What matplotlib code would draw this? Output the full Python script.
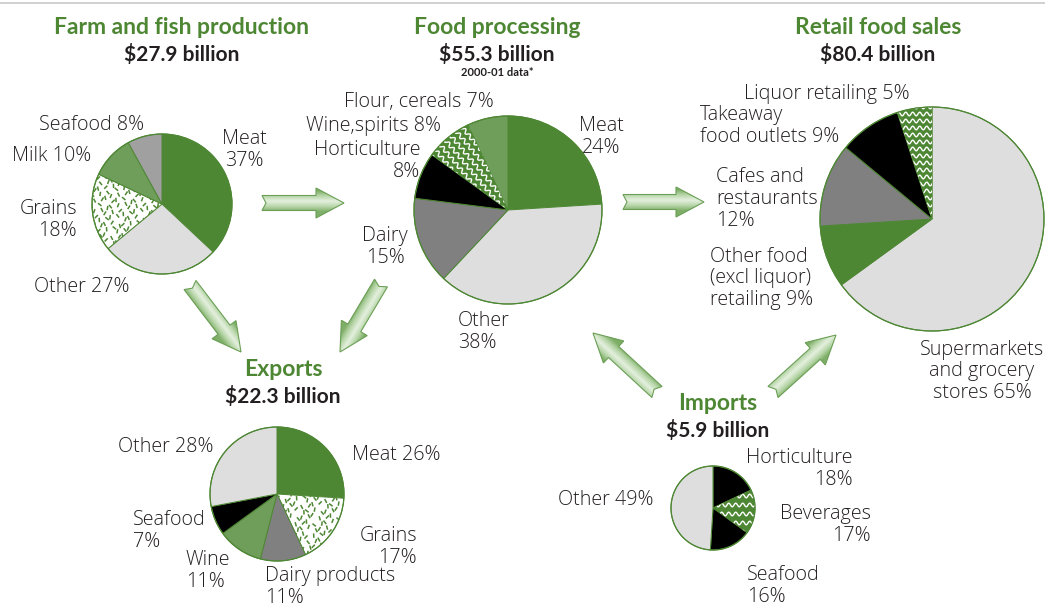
import numpy as np
import matplotlib
matplotlib.use("Agg")
import matplotlib.pyplot as plt
from matplotlib.patches import Polygon
from matplotlib.collections import LineCollection
from matplotlib.colors import LinearSegmentedColormap

# ---------------- data ----------------
farm_labels = ['Meat', 'Other', 'Grains', 'Milk', 'Seafood']
farm_values = [37, 27, 18, 10, 8]
farm_title, farm_total = 'Farm and fish production', '$27.9 billion'

proc_labels = ['Meat', 'Other', 'Dairy', 'Horticulture', 'Wine,spirits', 'Flour, cereals']
proc_values = [24, 38, 15, 8, 8, 7]
proc_title, proc_total, proc_note = 'Food processing', '$55.3 billion', '2000-01 data*'

retail_labels = ['Supermarkets\nand grocery\nstores', 'Other food\n(excl liquor)\nretailing',
                 'Cafes and\nrestaurants', 'Takeaway\nfood outlets', 'Liquor retailing']
retail_values = [65, 9, 12, 9, 5]
retail_title, retail_total = 'Retail food sales', '$80.4 billion'

export_labels = ['Meat', 'Grains', 'Dairy products', 'Wine', 'Seafood', 'Other']
export_values = [26, 17, 11, 11, 7, 28]
export_title, export_total = 'Exports', '$22.3 billion'

import_labels = ['Horticulture', 'Beverages', 'Seafood', 'Other']
import_values = [18, 17, 16, 49]
import_title, import_total = 'Imports', '$5.9 billion'

# ---------------- styles ----------------
W, H = 1045, 607
DKG = '#4e8734'
MDG = '#6f9d5a'
LGR = '#dedede'
GRY = '#808080'
LGY = '#a0a0a0'
BLK = '#000000'
DASH = 'dash'
WAVE = 'wave'
TXT = '#231f20'
LABEL_FONT = ['Open Sans', 'DejaVu Sans']
TITLE_FONT = ['Lato', 'DejaVu Sans']
plt.rcParams['font.family'] = ['Lato', 'DejaVu Sans']

fig = plt.figure(figsize=(W / 100, H / 100), dpi=100)
ax = fig.add_axes([0, 0, 1, 1])


def Y(y):
    return H - y


def texture_dash(wedge, cx, cy, r):
    s = 6.0
    segs = []
    n = int(2 * r / s) + 2
    for i in range(n):
        for j in range(n):
            ox = ((i * 37 + j * 17) % 11) / 11.0 * s * 0.8
            oy = ((i * 23 + j * 41) % 7) / 7.0 * s * 0.8
            px = cx - r + i * s + ox
            py = cy - r + j * s + oy
            ang = np.radians(45 + ((i * 13 + j * 29) % 9) * 12)
            L = 2.2
            segs.append([(px - L * np.cos(ang), py - L * np.sin(ang)),
                         (px + L * np.cos(ang), py + L * np.sin(ang))])
    lc = LineCollection(segs, colors=DKG, linewidths=1.1, zorder=wedge.get_zorder() + 0.1,
                        capstyle='butt')
    ax.add_collection(lc)
    lc.set_clip_path(wedge)


def texture_wave(wedge, cx, cy, r, angle=0.0, spacing=7.0, wl=7.0, amp=1.8):
    th = np.radians(angle)
    d = np.array([np.cos(th), np.sin(th)])
    nv = np.array([-np.sin(th), np.cos(th)])
    u = np.linspace(-r, r, int(2 * r * 3))
    segs = []
    k = -r
    while k <= r:
        v = k + amp * np.sin(2 * np.pi * u / wl)
        pts = np.c_[cx + u * d[0] + v * nv[0], cy + u * d[1] + v * nv[1]]
        segs.append(pts)
        k += spacing
    lc = LineCollection(segs, colors='white', linewidths=1.0, zorder=wedge.get_zorder() + 0.1)
    ax.add_collection(lc)
    lc.set_clip_path(wedge)


def draw_pie(values, fills, cx, cy, r, wave_angle=0.0, wave_sp=7.0):
    cols = ['white' if f == DASH else (DKG if f == WAVE else f) for f in fills]
    wedges, _ = ax.pie(values, colors=cols, startangle=90, counterclock=False,
                       center=(cx, Y(cy)), radius=r, frame=True,
                       wedgeprops=dict(edgecolor=DKG, linewidth=0.7))
    for w, f in zip(wedges, fills):
        if f == DASH:
            texture_dash(w, cx, Y(cy), r)
        elif f == WAVE:
            texture_wave(w, cx, Y(cy), r, angle=wave_angle, spacing=wave_sp)
    circ = plt.Circle((cx, Y(cy)), r, fill=False, ec=DKG, lw=0.9, zorder=5)
    ax.add_patch(circ)
    return wedges


arrow_cmap = LinearSegmentedColormap.from_list('arr', ['#e4f0de', '#b9d7ab', '#7eae67'])


def draw_arrow(x0, y0, x1, y1, w=15, hw=30, hl=28, notch=4):
    X0, Y0, X1, Y1 = x0, Y(y0), x1, Y(y1)
    L = np.hypot(X1 - X0, Y1 - Y0)
    d = np.array([X1 - X0, Y1 - Y0]) / L
    n = np.array([-d[1], d[0]])
    loc = [(0, w / 2), (L - hl, w / 2), (L - hl, hw / 2), (L, 0), (L - hl, -hw / 2),
           (L - hl, -w / 2), (0, -w / 2), (notch, 0)]
    pts = np.array([[X0 + a * d[0] + b * n[0], Y0 + a * d[1] + b * n[1]] for a, b in loc])
    poly = Polygon(pts, closed=True, fc='none', ec='#6a9f55', lw=0.8, zorder=4)
    ax.add_patch(poly)
    xmin, ymin = pts.min(axis=0) - 2
    xmax, ymax = pts.max(axis=0) + 2
    gx, gy = np.meshgrid(np.linspace(xmin, xmax, 120), np.linspace(ymin, ymax, 120))
    t = ((gx - X0) * n[0] + (gy - Y0) * n[1]) / (w / 2)
    f = np.clip(np.abs(t - 0.25) / 1.4, 0, 1)
    im = ax.imshow(f, extent=(xmin, xmax, ymin, ymax), origin='lower', cmap=arrow_cmap,
                   vmin=0, vmax=1, zorder=3, interpolation='bilinear')
    im.set_clip_path(poly)


def title(x, y, t1, t2, note=None):
    ax.text(x, Y(y), t1, ha='center', va='center', fontsize=16.5, fontweight='bold', color=DKG,
            family=TITLE_FONT)
    ax.text(x, Y(y + 27), t2, ha='center', va='center', fontsize=15, fontweight='bold',
            color=TXT, family=TITLE_FONT)
    if note:
        ax.text(x, Y(y + 45), note, ha='center', va='center', fontsize=8, fontweight='bold',
                color=TXT, family=TITLE_FONT)


def label(x, y, name, val, sep, ha='center', fs=14.2):
    ax.text(x, Y(y), f'{name}{sep}{val}%', ha=ha, va='center', fontsize=fs, color=TXT,
            multialignment=ha, linespacing=1.1, family=LABEL_FONT, fontweight='light')


# top rule
ax.plot([0, W], [Y(3), Y(3)], color='#c8c8c8', lw=1.2)

# ---------------- pies ----------------
draw_pie(farm_values, [DKG, LGR, DASH, MDG, LGY], 162, 204, 70)
draw_pie(proc_values, [DKG, LGR, GRY, BLK, WAVE, MDG], 508, 210, 94, wave_angle=-50, wave_sp=7)
draw_pie(retail_values, [LGR, DKG, GRY, BLK, WAVE], 932, 219, 112, wave_angle=0, wave_sp=7)
draw_pie(export_values, [DKG, DASH, GRY, MDG, BLK, LGR], 277, 494, 67)
draw_pie(import_values, [BLK, WAVE, BLK, LGR], 713, 508, 42, wave_angle=0, wave_sp=9)

# ---------------- titles ----------------
title(182, 27, farm_title, farm_total)
title(497, 28, proc_title, proc_total, proc_note)
title(878, 28, retail_title, retail_total)
title(283, 370, export_title, export_total)
title(718, 403, import_title, import_total)

# ---------------- labels ----------------
farm_pos = [(244, 150, '\n', 'center'), (82, 287, ' ', 'center'), (77, 220, '\n', 'right'),
            (52, 156, ' ', 'center'), (92, 125, ' ', 'center')]
for (x, y, sep, ha), nm, v in zip(farm_pos, farm_labels, farm_values):
    label(x, y, nm, v, sep, ha)

proc_pos = [(601, 137, '\n', 'center'), (458, 332, '\n', 'left'), (385, 247, '\n', 'center'),
            (420, 161, '\n', 'right'), (374, 126, ' ', 'center'), (419, 102, ' ', 'center')]
for (x, y, sep, ha), nm, v in zip(proc_pos, proc_labels, proc_values):
    label(x, y, nm, v, sep, ha)

retail_pos = [(982, 371, ' ', 'center'), (710, 278, ' ', 'left'), (716, 199, '\n', 'left'),
              (700, 126, ' ', 'left'), (827, 94, ' ', 'center')]
for (x, y, sep, ha), nm, v in zip(retail_pos, retail_labels, retail_values):
    label(x, y, nm, v, sep, ha)

export_pos = [(396, 455, ' ', 'center'), (417, 547, '\n', 'right'), (265, 587, '\n', 'left'),
              (186, 571, '\n', 'left'), (133, 531, '\n', 'left'), (166, 447, ' ', 'center')]
for (x, y, sep, ha), nm, v in zip(export_pos, export_labels, export_values):
    label(x, y, nm, v, sep, ha)

import_pos = [(853, 469, '\n', 'right'), (871, 525, '\n', 'right'), (747, 586, '\n', 'left'),
              (606, 500, ' ', 'center')]
for (x, y, sep, ha), nm, v in zip(import_pos, import_labels, import_values):
    label(x, y, nm, v, sep, ha)

# ---------------- arrows ----------------
draw_arrow(262, 203, 344, 203)
draw_arrow(623, 202, 704, 202)
draw_arrow(190, 285, 241, 352)
draw_arrow(381, 283, 340, 352)
draw_arrow(657, 392, 593, 333)
draw_arrow(773, 392, 836, 335)

ax.set_xlim(0, W)
ax.set_ylim(0, H)
ax.set_aspect('equal')
ax.axis('off')
fig.savefig('out.png', dpi=100, facecolor='white')
